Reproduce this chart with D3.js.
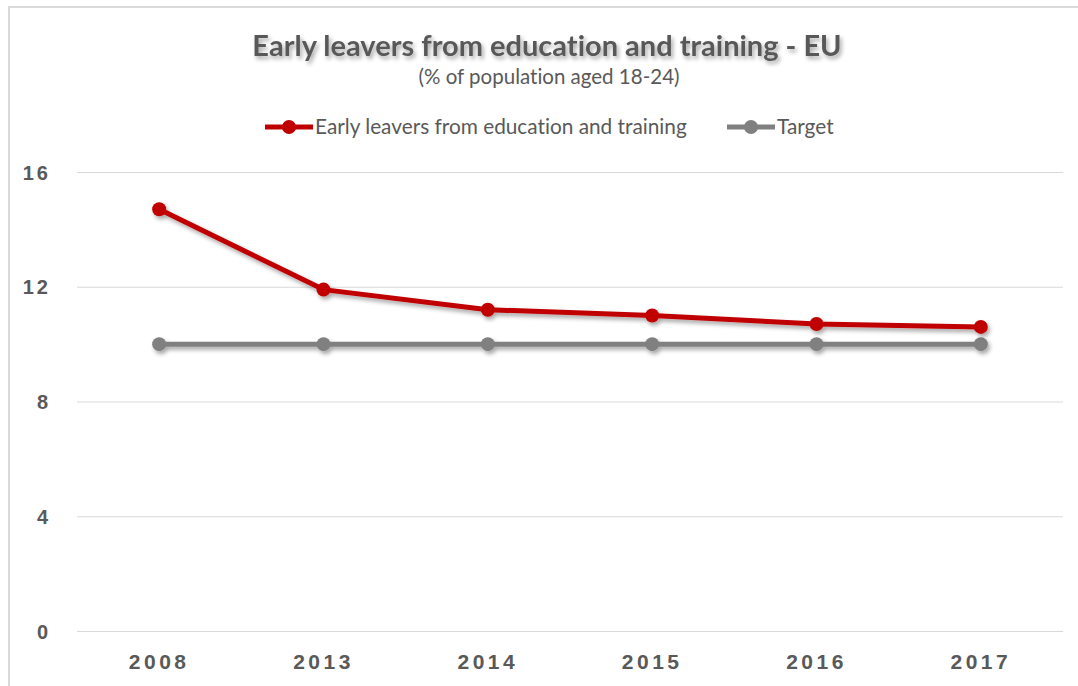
<!DOCTYPE html>
<html>
<head>
<meta charset="utf-8">
<script src="https://cdn.jsdelivr.net/npm/d3@7"></script>
<style>
  html, body { margin: 0; padding: 0; background: #fff; }
  svg { display: block; font-family: Lato, "Open Sans", sans-serif; font-variant-ligatures: none; }
</style>
</head>
<body>
<svg id="chart" width="1078" height="686"></svg>
<script>
// Early leavers from education and training, EU, % of population aged 18-24
const years = ["2008", "2013", "2014", "2015", "2016", "2017"];
const earlyLeavers = [14.7, 11.9, 11.2, 11.0, 10.7, 10.6];
const target = [10, 10, 10, 10, 10, 10];
const yTicks = [0, 4, 8, 12, 16];

const seriesNames = ["Early leavers from education and training", "Target"];
const seriesColors = ["#c00000", "#808080"];

const svg = d3.select("#chart");
const W = 1078, H = 686;

// chart frame (top and left edges)
svg.append("path")
  .attr("d", `M9,${H} V7 H${W}`)
  .attr("fill", "none")
  .attr("stroke", "#d9d9d9")
  .attr("stroke-width", 2);

const defs = svg.append("defs");
const shadow = defs.append("filter").attr("id", "shadow")
  .attr("x", "-10%").attr("y", "-50%").attr("width", "120%").attr("height", "200%");
shadow.append("feDropShadow")
  .attr("dx", 2).attr("dy", 3).attr("stdDeviation", 2)
  .attr("flood-color", "#000").attr("flood-opacity", 0.35);

const x = d3.scaleBand().domain(years).range([77, 1063]);
const y = d3.scaleLinear().domain([0, 16]).range([631, 172]);

// horizontal gridlines
const gy = svg.append("g").attr("class", "y-axis")
  .attr("transform", "translate(77,0)")
  .call(d3.axisLeft(y).tickValues(yTicks).tickSize(-(1063 - 77)).tickFormat(d3.format("d")));
gy.select(".domain").remove();
gy.selectAll(".tick line").attr("stroke", "#d9d9d9").attr("stroke-width", 1);
gy.selectAll(".tick text")
  .attr("x", -26)
  .attr("dy", "0.35em")
  .attr("fill", "#595959")
  .style("font-size", "20px")
  .style("font-weight", "bold")
  .style("letter-spacing", "3px");

// category axis labels
const gx = svg.append("g").attr("class", "x-axis")
  .attr("transform", "translate(0,631)")
  .call(d3.axisBottom(x).tickSize(0).tickPadding(23));
gx.select(".domain").remove();
gx.selectAll(".tick text")
  .attr("fill", "#595959")
  .style("font-size", "21px")
  .style("font-weight", "bold")
  .style("letter-spacing", "3.5px");

const cx = d => x(d) + x.bandwidth() / 2;
const line = d3.line().x((d, i) => cx(years[i])).y(d => y(d));

const series = [target, earlyLeavers];
const colors = [seriesColors[1], seriesColors[0]];

series.forEach((vals, k) => {
  const g = svg.append("g").attr("filter", "url(#shadow)");
  g.append("path")
    .datum(vals)
    .attr("d", line)
    .attr("fill", "none")
    .attr("stroke", colors[k])
    .attr("stroke-width", 5)
    .attr("stroke-linejoin", "round");
  g.selectAll("circle")
    .data(vals)
    .join("circle")
    .attr("cx", (d, i) => cx(years[i]))
    .attr("cy", d => y(d))
    .attr("r", 7)
    .attr("fill", colors[k]);
});

// title and subtitle
svg.append("text")
  .attr("x", 547).attr("y", 56)
  .attr("text-anchor", "middle")
  .attr("fill", "#595959")
  .attr("filter", "url(#shadow)")
  .style("font-size", "29px")
  .style("font-weight", "bold")
  .text("Early leavers from education and training - EU");

svg.append("text")
  .attr("x", 549).attr("y", 84)
  .attr("text-anchor", "middle")
  .attr("fill", "#595959")
  .style("font-size", "20.5px")
  .text("(% of population aged 18-24)");

// legend
const legendItems = [
  { name: seriesNames[0], color: seriesColors[0], x0: 265 },
  { name: seriesNames[1], color: seriesColors[1], x0: 727 }
];
const lg = svg.append("g").attr("class", "legend");
legendItems.forEach(item => {
  const g = lg.append("g").attr("transform", `translate(${item.x0},127)`);
  g.append("line").attr("x1", 0).attr("x2", 48).attr("y1", 0).attr("y2", 0)
    .attr("stroke", item.color).attr("stroke-width", 5);
  g.append("circle").attr("cx", 24).attr("cy", 0).attr("r", 7).attr("fill", item.color);
  g.append("text").attr("x", 50).attr("y", 0).attr("dy", "0.35em")
    .attr("fill", "#595959").style("font-size", "20.8px").text(item.name);
});
</script>
</body>
</html>
